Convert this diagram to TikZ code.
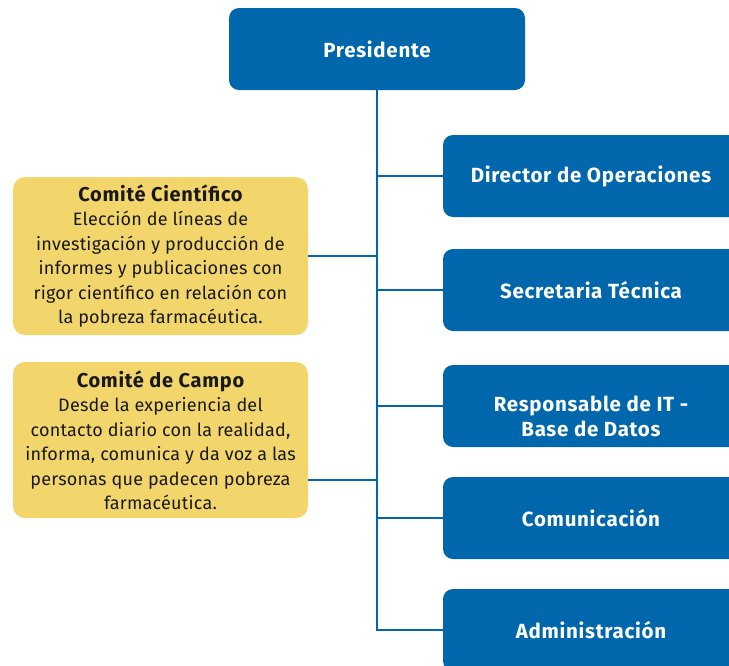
\documentclass[tikz,border=0pt]{standalone}
\usepackage{fontspec}
\setmainfont{Fira Sans}[LetterSpace=1.2]
\newfontfamily\headfont{Fira Sans}[LetterSpace=3.5]
\usetikzlibrary{positioning,calc}
\definecolor{orgblue}{RGB}{0,103,172}
\definecolor{orgyellow}{RGB}{242,214,108}
\definecolor{orgtext}{RGB}{25,25,25}
\tikzset{
  bluebox/.style={rectangle, rounded corners=10pt, fill=orgblue, draw=none,
    minimum width=296pt, minimum height=82pt, text=white, align=center,
    font=\headfont\fontsize{20.5}{24.5}\selectfont\bfseries, inner sep=0pt},
  yellowbox/.style={rectangle, rounded corners=12pt, fill=orgyellow, draw=none,
    minimum width=295pt, text=orgtext, align=center,
    font=\fontsize{18}{24.5}\selectfont, inner sep=0pt},
  link/.style={draw=orgblue, line width=2pt}
}
\newcommand{\boxtitle}[1]{{\headfont\fontsize{20}{24.5}\selectfont\bfseries #1}}
\begin{document}
\begin{tikzpicture}[x=1pt,y=-1pt]
\useasboundingbox (0,0) rectangle (729,665);
\node[bluebox] (pres) at (377,49) {Presidente};
\node[bluebox] (dir) at (591,176) {Director de Operaciones};
\node[bluebox] (sec) at (591,290) {Secretaria Técnica};
\node[bluebox] (resp) at (591,406) {\raisebox{-13pt}[\height][\depth]{\begin{tabular}{@{}c@{}}Responsable de IT -\\Base de Datos\end{tabular}}};
\node[bluebox] (com) at (591,518) {Comunicación};
\node[bluebox] (adm) at (591,630) {Administración};
\node[yellowbox, minimum height=158pt] (cc) at (160.5,256)
  {\boxtitle{Comité Científico}\\Elección de líneas de\\investigación y producción de\\informes y publicaciones con\\rigor científico en relación con\\la pobreza farmacéutica.};
\node[yellowbox, minimum height=156pt] (campo) at (160.5,440)
  {\boxtitle{Comité de Campo}\\Desde la experiencia del\\contacto diario con la realidad,\\informa, comunica y da voz a las\\personas que padecen pobreza\\farmacéutica.};
\coordinate (campoR) at ([yshift=-40pt]campo.east);
\coordinate (trunkEnd) at (pres.south |- adm.west);
\draw[link] (pres.south) -- (trunkEnd) -- (adm.west);
\draw[link] (dir.west) -- (dir.west -| pres.south);
\draw[link] (sec.west) -- (sec.west -| pres.south);
\draw[link] (resp.west) -- (resp.west -| pres.south);
\draw[link] (com.west) -- (com.west -| pres.south);
\draw[link] (cc.east) -- (cc.east -| pres.south);
\draw[link] (campoR) -- (campoR -| pres.south);
\end{tikzpicture}
\end{document}
